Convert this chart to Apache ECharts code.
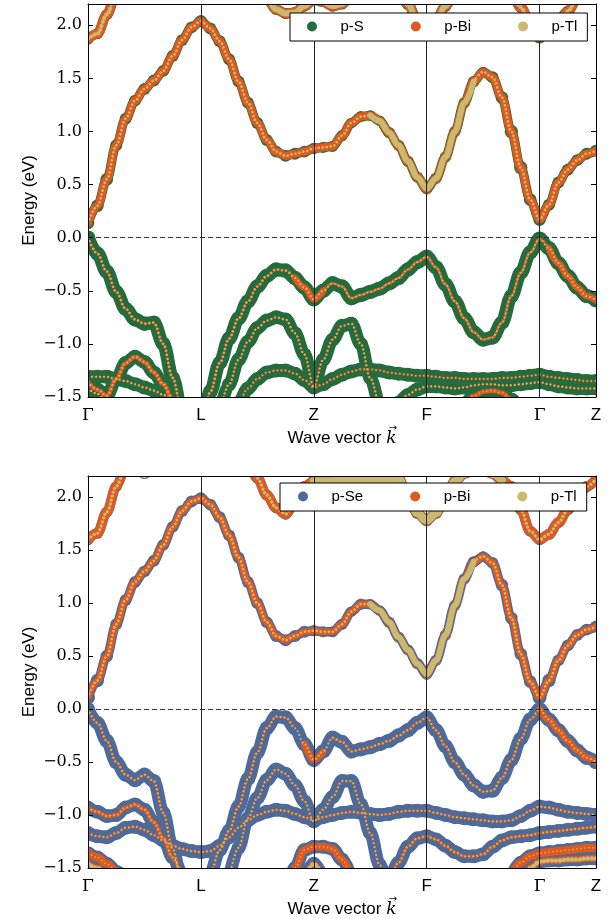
<!DOCTYPE html>
<html>
<head>
<meta charset="utf-8">
<title>Fat bands</title>
<script src="https://cdn.jsdelivr.net/npm/echarts@6/dist/echarts.min.js"></script>
<style>
  html, body { margin: 0; padding: 0; background: #fff; }
  #chart { width: 613px; height: 919px; }
</style>
</head>
<body>
<div id="chart"></div>
<script>
const _ = null;

// k-path: points are indexed 0..54, high-symmetry points at these indices
const kTicks = [0, 12, 24, 36, 48, 54];
const kNames = ['Γ', 'L', 'Z', 'F', 'Γ', 'Z'];

const topNames = ['p-S', 'p-Bi', 'p-Tl'];
const botNames = ['p-Se', 'p-Bi', 'p-Tl'];

// bands: [first k index, energies (eV)]
// weights: [anion, Bi, Tl] in %, one number for the whole band or one per point

// ---------- top panel (S) ----------
const tCB1 = [0, [
  0.14, 0.30, 0.55, 0.87, 1.12, 1.29, 1.40, 1.48, 1.57, 1.71, 1.86, 1.98,
  2.04, 1.97, 1.85, 1.68, 1.47, 1.27, 1.08, 0.92, 0.81, 0.77, 0.79, 0.81,
  0.84, 0.85, 0.86, 0.96, 1.08, 1.14, 1.15, 1.10, 0.99, 0.87, 0.72, 0.57,
  0.46, 0.56, 0.76, 1.00, 1.27, 1.47, 1.56, 1.51, 1.32, 1.00, 0.66, 0.36,
  0.17, 0.31, 0.52, 0.64, 0.73, 0.79, 0.82]];
const tCB1W = [
  [20, 20, 20, 15, 15, 15, 15, 15, 15, 15, 15, 15,
   15, 15, 15, 15, 15, 15, 15, 15, 15, 15, 15, 15,
   10, 10, 10, 5, 5, 5, 5, 5, 0, 0, 0, 0,
   0, 0, 0, 0, 0, 0, 5, 15, 15, 15, 15, 20,
   20, 20, 20, 20, 20, 20, 20],
  [50, 50, 50, 50, 50, 50, 50, 50, 50, 50, 50, 50,
   50, 50, 50, 50, 50, 50, 50, 50, 50, 50, 50, 50,
   50, 50, 50, 45, 35, 30, 20, 15, 15, 10, 10, 10,
   10, 10, 10, 10, 15, 30, 35, 50, 55, 65, 65, 55,
   50, 45, 45, 45, 45, 45, 45],
  [20, 20, 20, 20, 20, 20, 20, 20, 20, 20, 20, 20,
   20, 20, 20, 20, 20, 20, 20, 20, 20, 20, 20, 20,
   20, 20, 20, 30, 35, 45, 50, 55, 65, 70, 70, 70,
   70, 70, 70, 70, 65, 50, 35, 20, 20, 15, 15, 15,
   20, 20, 20, 20, 20, 20, 20]];

const tCB2 = [0, [
  1.87, 1.92, 2.10, 2.30, 2.50, _, _, _, _, _, _, _,
  _, _, _, _, _, _, 2.45, 2.25, 2.15, 2.11, 2.12, 2.18,
  2.24, 2.22, 2.18, 2.20, 2.28, 2.40, _, _, 2.40, 2.30, 2.20, 2.05,
  1.98, 2.05, 2.18, 2.35, _, _, _, _, 2.45, 2.30, 2.17, 2.02,
  1.88, 1.95, 2.05, 2.13, 2.25, 2.40]];
const tCB2W = [5,
  [55, 55, 55, 55, 55, 55, 55, 55, 55, 55, 55, 55,
   55, 55, 55, 55, 55, 55, 25, 25, 25, 25, 25, 25,
   25, 25, 25, 25, 25, 25, 10, 10, 10, 10, 10, 10,
   10, 10, 10, 10, 10, 10, 10, 10, 55, 55, 55, 55,
   55, 55, 55, 55, 55, 55],
  [20, 20, 20, 20, 20, 20, 20, 20, 20, 20, 20, 20,
   20, 20, 20, 20, 20, 20, 50, 50, 50, 50, 50, 50,
   50, 50, 50, 50, 50, 50, 70, 70, 70, 70, 70, 70,
   70, 70, 70, 70, 70, 70, 70, 70, 20, 20, 20, 20,
   20, 20, 20, 20, 20, 20]];

const tVB1 = [0, [
  0.00, -0.15, -0.32, -0.51, -0.67, -0.77, -0.81, -0.80, -1.00, -1.32, -1.65, -1.80,
  -1.85, -1.45, -1.18, -0.95, -0.76, -0.60, -0.46, -0.36, -0.30, -0.31, -0.38, -0.47,
  -0.58, -0.50, -0.43, -0.46, -0.57, -0.54, -0.51, -0.48, -0.43, -0.38, -0.30, -0.23,
  -0.18, -0.28, -0.44, -0.60, -0.76, -0.89, -0.96, -0.94, -0.80, -0.55, -0.33, -0.14,
  -0.01, -0.10, -0.24, -0.36, -0.47, -0.55, -0.59]];
const tVB1W = [
  [75, 75, 80, 80, 80, 80, 80, 80, 80, 80, 80, 80,
   80, 80, 80, 80, 80, 80, 80, 80, 75, 65, 50, 40,
   40, 50, 65, 75, 80, 80, 80, 80, 80, 80, 80, 80,
   80, 80, 80, 80, 80, 80, 80, 80, 80, 80, 80, 75,
   65, 50, 40, 35, 35, 35, 35],
  [10, 10, 4, 4, 4, 4, 4, 4, 4, 4, 4, 4,
   4, 4, 4, 4, 4, 4, 4, 4, 10, 20, 35, 45,
   45, 35, 20, 10, 4, 4, 4, 4, 4, 4, 4, 4,
   4, 4, 4, 4, 4, 4, 4, 4, 4, 4, 4, 10,
   20, 35, 45, 50, 50, 50, 50],
  19];

const tA = [0, [-1.31, -1.31, -1.31, -1.33, -1.35, -1.38, -1.41, -1.44, -1.48, -1.53, -1.60]];
const tB = [0, [-1.36, -1.43, -1.49, -1.33, -1.18, -1.12, -1.17, -1.27, -1.38, -1.52, -1.66]];
const tC = [0, [-1.42, -1.47, -1.55, -1.65]];
const tD = [14, [-1.65, -1.38, -1.15, -0.98, -0.85, -0.78, -0.75, -0.77, -0.90, -1.10,
  -1.40, -1.15, -0.96, -0.83, -0.81, -1.00, -1.32, -1.65]];
const tE = [15, [-1.70, -1.55, -1.42, -1.33, -1.27, -1.25, -1.25, -1.28, -1.34,
  -1.41, -1.38, -1.33, -1.29, -1.26, -1.24, -1.24, -1.25, -1.27, -1.28, -1.29, -1.30,
  -1.30, -1.31, -1.32, -1.32, -1.33, -1.33, -1.33, -1.33, -1.32, -1.32, -1.31, -1.30,
  -1.29, -1.31, -1.32, -1.33, -1.34, -1.35, -1.35]];
const tF = [32, [-1.65, -1.55, -1.48, -1.43, -1.40, -1.40, -1.41, -1.42, -1.41, -1.39,
  -1.38, -1.38, -1.39, -1.39, -1.38, -1.37, -1.36, -1.38, -1.40, -1.41, -1.42, -1.42, -1.42]];
const tG = [39, [-1.65, -1.56, -1.49, -1.45, -1.44, -1.46, -1.52, -1.62]];

// ---------- bottom panel (Se) ----------
const bCB1 = [0, [
  0.11, 0.27, 0.50, 0.80, 1.03, 1.20, 1.30, 1.40, 1.55, 1.72, 1.87, 1.96,
  1.99, 1.93, 1.81, 1.64, 1.43, 1.20, 1.00, 0.82, 0.69, 0.65, 0.69, 0.73,
  0.74, 0.73, 0.73, 0.80, 0.92, 0.99, 0.99, 0.93, 0.82, 0.68, 0.56, 0.43,
  0.33, 0.46, 0.70, 0.98, 1.23, 1.39, 1.44, 1.38, 1.17, 0.86, 0.52, 0.26,
  0.11, 0.27, 0.46, 0.60, 0.70, 0.75, 0.78]];
const bCB1W = [
  [45, 30, 20, 15, 15, 15, 15, 15, 15, 15, 15, 15,
   15, 15, 15, 15, 15, 15, 15, 15, 15, 15, 15, 15,
   10, 10, 10, 5, 5, 5, 5, 5, 0, 0, 0, 0,
   0, 0, 0, 0, 0, 0, 5, 15, 15, 15, 15, 30,
   45, 30, 20, 20, 20, 20, 20],
  [40, 45, 50, 50, 50, 50, 50, 50, 50, 50, 50, 50,
   50, 50, 50, 50, 50, 50, 50, 50, 50, 50, 50, 50,
   50, 50, 50, 45, 35, 30, 20, 15, 15, 10, 10, 10,
   10, 10, 10, 10, 15, 30, 35, 50, 55, 60, 60, 45,
   40, 45, 45, 45, 45, 45, 45],
  [15, 20, 20, 20, 20, 20, 20, 20, 20, 20, 20, 20,
   20, 20, 20, 20, 20, 20, 20, 20, 20, 20, 20, 20,
   20, 20, 20, 30, 35, 45, 50, 55, 65, 70, 70, 70,
   70, 70, 70, 70, 65, 50, 35, 20, 20, 15, 15, 15,
   15, 20, 20, 20, 20, 20, 20]];

const bCB2 = [0, [
  1.60, 1.66, 1.86, 2.10, 2.35, _, _, _, _, _, _, _,
  _, _, _, _, 2.50, 2.32, 2.18, 2.02, 1.90, 1.84, 1.95, 2.10,
  2.15, 2.15, 2.15, 2.16, 2.16, 2.17, 2.17, 2.16, 2.15, 2.18, 2.00, 1.85,
  1.78, 1.85, 2.00, 2.15, 2.22, 2.26, 2.26, 2.22, 2.16, 2.10, 1.88, 1.68,
  1.60, 1.65, 1.76, 1.88, 1.99, 2.10, 2.17]];
const bCB2W = [5,
  [55, 55, 55, 55, 55, 55, 55, 55, 55, 55, 55, 55,
   55, 55, 55, 55, 35, 35, 35, 35, 35, 35, 35, 35,
   15, 15, 15, 15, 15, 15, 15, 15, 15, 10, 10, 10,
   10, 10, 10, 10, 15, 15, 15, 15, 15, 55, 55, 55,
   55, 55, 55, 55, 55, 55, 55],
  [20, 20, 20, 20, 20, 20, 20, 20, 20, 20, 20, 20,
   20, 20, 20, 20, 40, 40, 40, 40, 40, 40, 40, 40,
   65, 65, 65, 65, 65, 65, 65, 65, 65, 70, 70, 70,
   70, 70, 70, 70, 65, 65, 65, 65, 65, 20, 20, 20,
   20, 20, 20, 20, 20, 20, 20]];

const bCB3 = [4, [2.60, 2.32, 2.22, 2.32, 2.60]];

const bVB1 = [0, [
  0.00, -0.13, -0.30, -0.50, -0.62, -0.67, -0.62, -0.68, -0.98, -1.32, -1.65, -1.80,
  -1.85, -1.55, -1.33, -1.15, -0.92, -0.66, -0.41, -0.18, -0.07, -0.08, -0.18, -0.33,
  -0.48, -0.40, -0.27, -0.31, -0.40, -0.38, -0.36, -0.33, -0.30, -0.25, -0.20, -0.13,
  -0.08, -0.20, -0.35, -0.50, -0.62, -0.72, -0.78, -0.77, -0.65, -0.48, -0.28, -0.10,
  0.00, -0.10, -0.20, -0.30, -0.39, -0.46, -0.50]];
const bVB1W = [
  [55, 65, 70, 75, 80, 80, 80, 80, 80, 80, 80, 80,
   80, 80, 80, 80, 80, 80, 80, 80, 80, 75, 60, 45,
   40, 45, 60, 75, 80, 80, 80, 80, 80, 80, 80, 80,
   80, 80, 80, 80, 80, 80, 80, 80, 80, 80, 80, 75,
   45, 45, 35, 35, 35, 35, 35],
  [15, 15, 15, 10, 5, 5, 5, 5, 5, 5, 5, 5,
   5, 5, 5, 5, 5, 5, 5, 5, 5, 10, 25, 40,
   45, 40, 25, 10, 5, 5, 5, 5, 5, 5, 5, 5,
   5, 5, 5, 5, 5, 5, 5, 5, 5, 5, 5, 10,
   30, 40, 50, 50, 50, 50, 50],
  [30, 20, 18, 18, 18, 18, 18, 18, 18, 18, 18, 18,
   18, 18, 18, 18, 18, 18, 18, 18, 18, 18, 18, 18,
   18, 18, 18, 18, 18, 18, 18, 18, 18, 18, 18, 18,
   18, 18, 18, 18, 18, 18, 18, 18, 18, 18, 18, 18,
   25, 18, 18, 18, 18, 18, 18]];

const b2 = [0, [-0.93, -0.97, -1.01, -1.00, -0.93, -0.90, -0.95, -1.07, -1.22, -1.40, -1.60]];
const b3 = [0, [
  -1.17, -1.20, -1.21, -1.17, -1.12, -1.11, -1.14, -1.19, -1.24, -1.29, -1.32, -1.34,
  -1.35, -1.34, -1.29, -1.21, -1.12, -1.05, -1.00, -0.97, -0.95, -0.96, -0.99, -1.02,
  -1.05, -1.02, -1.00, -0.98, -0.97, -0.98, -0.99, -1.00, -0.99, -0.97, -0.96, -0.96,
  -0.96, -0.98, -1.00, -1.02, -1.03, -1.04, -1.05, -1.06, -1.06, -1.05, -1.01, -0.96,
  -0.92, -0.93, -0.95, -0.97, -0.98, -0.99, -1.00]];
const b4 = [15, [-1.60, -1.31, -1.03, -0.84, -0.67, -0.57, -0.61, -0.72, -0.87, -1.06,
  -0.95, -0.83, -0.68, -0.68, -0.90, -1.17, -1.47, -1.80]];
const b5 = [21, [-1.70, -1.50, -1.33, -1.30, -1.30, -1.32, -1.42, -1.60]];
const b5b = [23, [-1.60, -1.46, -1.60]];
const b6 = [31, [-1.80, -1.60, -1.45, -1.30, -1.22, -1.20, -1.23, -1.29, -1.35, -1.39,
  -1.39, -1.37, -1.30, -1.24, -1.21, -1.20, -1.19, -1.17, -1.16, -1.15, -1.14, -1.13, -1.12, -1.11]];
const b7 = [45, [-1.58, -1.45, -1.39, -1.36, -1.35, -1.34, -1.33, -1.32, -1.31, -1.31]];
const b8 = [46, [-1.62, -1.50, -1.44, -1.43, -1.43, -1.42, -1.42, -1.41, -1.41]];
const b9 = [0, [-1.36, -1.40, -1.46, -1.53, -1.62]];
const b10 = [0, [-1.46, -1.50, -1.56, -1.65]];

const topBands = [
  [tCB1, tCB1W], [tCB2, tCB2W], [tVB1, tVB1W],
  [tA, [77, 5, 18]], [tB, [62, 20, 18]], [tC, [77, 5, 18]], [tD, [77, 5, 18]],
  [tE, [77, 8, 15]], [tF, [77, 5, 18]], [tG, [60, 30, 10]]
];
const botBands = [
  [bCB1, bCB1W], [bCB2, bCB2W], [bCB3, [0, 10, 70]], [bVB1, bVB1W],
  [b2, [62, 20, 18]], [b3, [74, 8, 18]], [b4, [77, 5, 18]], [b5, [40, 45, 15]],
  [b5b, [55, 10, 35]], [b6, [70, 12, 18]], [b7, [35, 50, 15]], [b8, [50, 15, 35]],
  [b9, [35, 50, 15]], [b10, [50, 15, 35]]
];

const topColors = ['#246b3d', '#e05a1f', '#c9ba70'];
const botColors = ['#4e6a98', '#e05a1f', '#c9ba70'];

const SIZE = 14;     // marker diameter for 100 % weight
const LINE_MIN = 7;  // markers this big get a solid ribbon, smaller ones a dotted one
const DOT_STEP = 4;

function weightAt(w, j) { return Array.isArray(w) ? w[j] : w; }

function ribbonSeries(data, color, width, g, dotted) {
  return {
    type: 'line', xAxisIndex: 2 * g, yAxisIndex: 2 * g,
    data: data, smooth: 0.35, smoothMonotone: 'x',
    showSymbol: false, symbol: 'none', silent: true,
    lineStyle: {
      color: color, width: width, cap: 'round', join: 'round',
      type: dotted ? [0.01, DOT_STEP] : 'solid'
    }
  };
}

// layers are cumulative: anion circle = total, Bi circle = Bi+Tl, Tl circle = Tl
function fatBandSeries(bands, names, colors, g) {
  const out = [];
  for (let layer = 0; layer < 3; layer++) {
    const pts = [];
    bands.forEach(([band, weights]) => {
      const k0 = band[0];
      const solid = [], dotted = [];
      let thinnest = Infinity, dotSum = 0, dotN = 0;
      band[1].forEach((e, j) => {
        const k = k0 + j;
        if (e === null) { solid.push([k, '-']); dotted.push([k, '-']); return; }
        let cum = 0;
        for (let m = layer; m < 3; m++) cum += weightAt(weights[m], j);
        const size = SIZE * cum / 100;
        pts.push([k, e, size]);
        if (size >= LINE_MIN) {
          solid.push([k, e]);
          thinnest = Math.min(thinnest, size);
        } else {
          solid.push([k, '-']);
        }
        if (size > 1 && size < LINE_MIN + 1) {
          dotted.push([k, e]);
          dotSum += size; dotN++;
        } else {
          dotted.push([k, '-']);
        }
      });
      if (thinnest < Infinity) out.push(ribbonSeries(solid, colors[layer], Math.max(2, thinnest - 1), g, false));
      if (dotN > 1) out.push(ribbonSeries(dotted, colors[layer], Math.max(1.5, dotSum / dotN - 0.5), g, true));
    });
    out.push({
      type: 'scatter', name: names[layer], xAxisIndex: 2 * g, yAxisIndex: 2 * g,
      data: pts, symbolSize: v => v[2], clip: true, silent: true,
      itemStyle: { color: colors[layer], opacity: 1 }
    });
  }
  // Fermi level on top of the markers
  out[out.length - 1].markLine = {
    silent: true, symbol: 'none', animation: false,
    label: { show: false },
    lineStyle: { color: '#333', type: [5, 3], width: 1 },
    data: [{ yAxis: 0 }]
  };
  return out;
}

function kLabel(v) {
  const i = kTicks.indexOf(v);
  if (i < 0) return '';
  return kNames[i] === 'Γ' ? '{g|Γ}' : kNames[i];
}

const NAME_GAP_X = 33;

function xAxes(g) {
  return [{
    type: 'value', gridIndex: g, min: 0, max: 54, interval: 12, z: 10,
    axisLine: { onZero: false, lineStyle: { color: '#000', width: 1 } },
    axisTick: { show: false },
    splitLine: { show: true, lineStyle: { color: '#222', width: 1 } },
    axisLabel: {
      formatter: kLabel, margin: 10, color: '#000',
      fontFamily: 'Liberation Sans', fontSize: 17,
      showMinLabel: true, showMaxLabel: true,
      rich: { g: { fontFamily: 'DejaVu Serif', fontSize: 17, color: '#000' } }
    },
    name: 'Wave vector {k|k}', nameLocation: 'middle', nameGap: NAME_GAP_X,
    nameTextStyle: {
      fontFamily: 'Liberation Sans', fontSize: 17, color: '#000',
      rich: { k: { fontFamily: 'DejaVu Serif', fontStyle: 'italic', fontSize: 17, color: '#000' } }
    }
  }, {
    type: 'value', gridIndex: g, position: 'top', min: 0, max: 54, z: 10,
    axisLine: { onZero: false, lineStyle: { color: '#000', width: 1 } },
    axisTick: { show: false }, axisLabel: { show: false }, splitLine: { show: false }
  }];
}

function yAxes(g) {
  const base = {
    type: 'value', gridIndex: g, min: -1.5, max: 2.2, interval: 0.5, z: 10,
    axisLine: { show: true, onZero: false, lineStyle: { color: '#000', width: 1 } },
    axisTick: { show: true, inside: true, length: 5, lineStyle: { color: '#000' } },
    splitLine: { show: false }
  };
  return [Object.assign({}, base, {
    position: 'left',
    axisLabel: {
      margin: 6, color: '#000', fontFamily: 'DejaVu Serif', fontSize: 16, showMaxLabel: false,
      formatter: v => (Math.abs(v - 2.2) < 1e-6 ? '' : v.toFixed(1).replace('-', '\u2212'))
    },
    name: 'Energy (eV)', nameLocation: 'middle', nameGap: 50, nameRotate: 90,
    nameMoveOverlap: false,
    nameTextStyle: { fontFamily: 'Liberation Sans', fontSize: 17, color: '#000' }
  }), Object.assign({}, base, {
    position: 'right', axisLabel: { show: false }
  })];
}

function legendFor(names, left, top, padLeft) {
  return {
    left: left, top: top, orient: 'horizontal',
    data: names.map(n => ({ name: n, icon: 'circle' })),
    itemWidth: 47, itemHeight: 10, itemGap: 47,
    padding: [6, 10, 7, padLeft],
    backgroundColor: '#fff', borderColor: '#000', borderWidth: 1, borderRadius: 0,
    textStyle: { fontFamily: 'Liberation Sans', fontSize: 15, color: '#000' },
    selectedMode: false, z: 20
  };
}

// white margins hide the parts of markers that spill past the frame
function cover(x, y, w, h) {
  return { type: 'rect', shape: { x: x, y: y, width: w, height: h }, style: { fill: '#fff' }, z: 5, silent: true };
}

// arrow over the k of the axis title
function kArrow(axisY) {
  return {
    type: 'text', x: 393, y: axisY + NAME_GAP_X - 2, z: 20, silent: true,
    style: { text: '\u2192', fontFamily: 'DejaVu Sans', fontSize: 10, fill: '#000', align: 'center', verticalAlign: 'middle' }
  };
}

const chart = echarts.init(document.getElementById('chart'));
chart.setOption({
  backgroundColor: '#fff',
  animation: false,
  textStyle: { fontFamily: 'Liberation Sans' },
  grid: [
    { left: 88, top: 4, width: 508, height: 393 },
    { left: 88, top: 476, width: 508, height: 392 }
  ],
  xAxis: xAxes(0).concat(xAxes(1)),
  yAxis: yAxes(0).concat(yAxes(1)),
  legend: [legendFor(topNames, 290, 13, 17), legendFor(botNames, 280, 483, 18)],
  graphic: [
    cover(0, 0, 613, 4), cover(0, 397, 613, 79), cover(0, 868, 613, 51),
    cover(0, 0, 88, 919), cover(596, 0, 17, 919),
    kArrow(397), kArrow(868)
  ],
  series: fatBandSeries(topBands, topNames, topColors, 0)
    .concat(fatBandSeries(botBands, botNames, botColors, 1))
});
</script>
</body>
</html>
